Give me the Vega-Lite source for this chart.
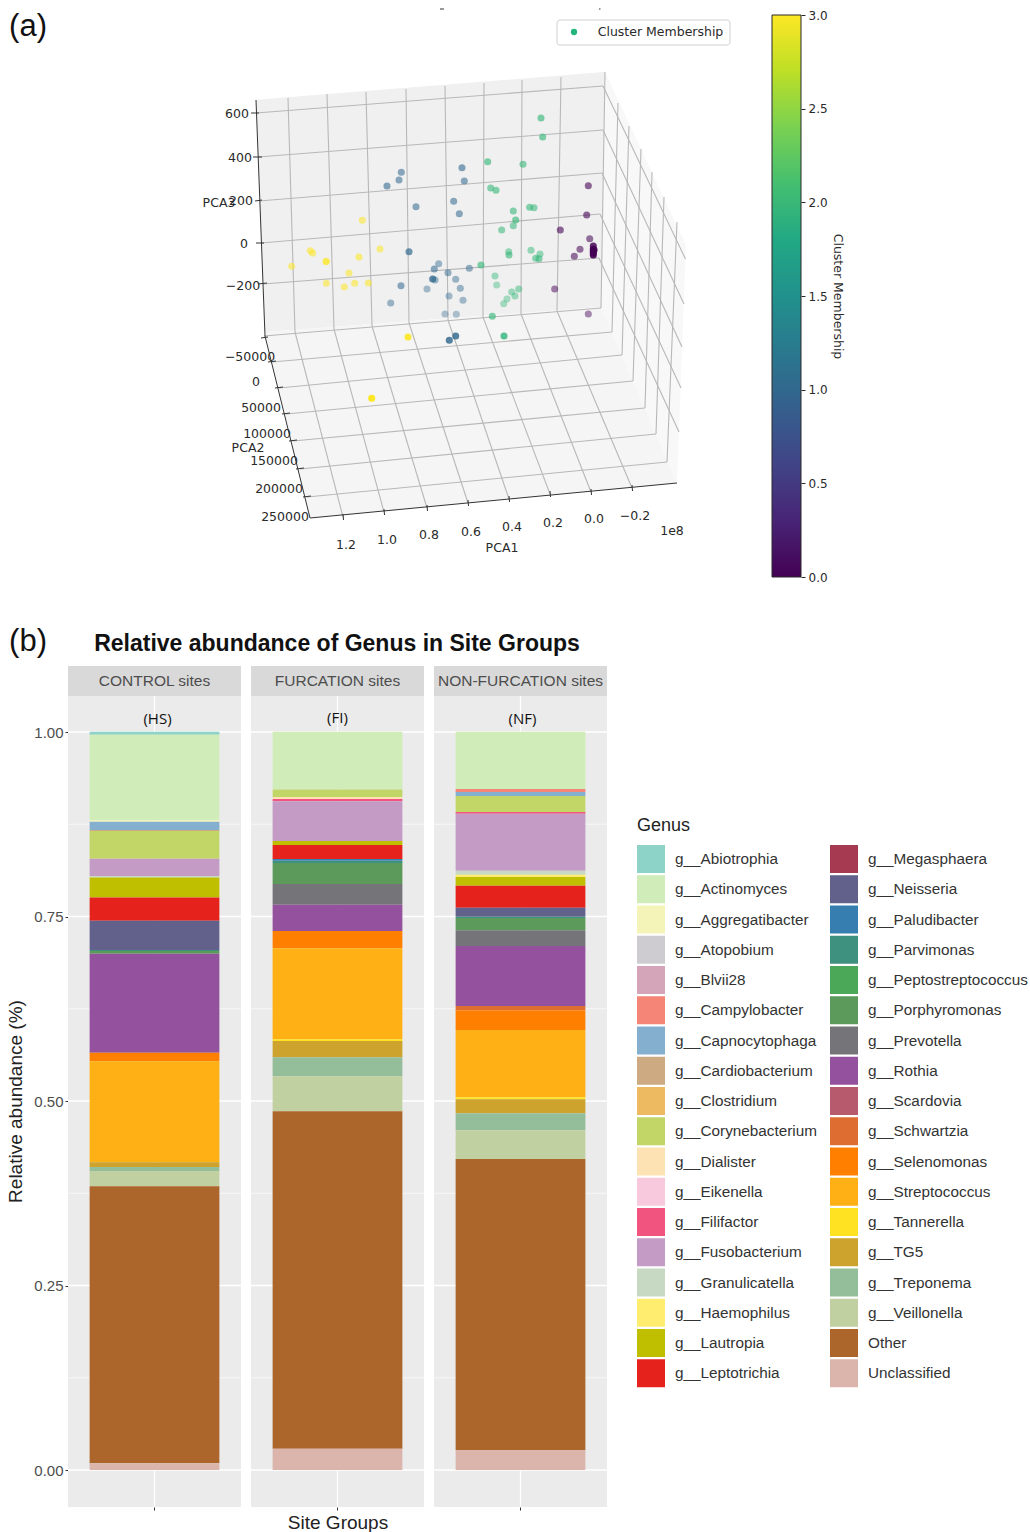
{"$schema":"https://vega.github.io/schema/vega-lite/v6.json","padding":0,"background":"white","autosize":{"type":"none"},"width":1030,"height":1532,"config":{"view":{"stroke":null},"font":"Liberation Sans"},
"datasets":{
"panes":[
{"pane":"back","a":256,"b":100,"b2":100},{"pane":"back","a":265,"b":99,"b2":332},{"pane":"back","a":601,"b":72.3,"b2":307},{"pane":"back","a":605,"b":72,"b2":72},
{"pane":"floor","a":265,"b":332,"b2":332},{"pane":"floor","a":310,"b":328.7,"b2":518},{"pane":"floor","a":601,"b":307,"b2":490},{"pane":"floor","a":677,"b":483,"b2":483},
{"pane":"right","a":601,"b":308,"b2":308},{"pane":"right","a":605,"b":72,"b2":317},{"pane":"right","a":677,"b":226,"b2":483},{"pane":"right","a":686,"b":245,"b2":245}],
"grid":[
{"a":256,"b":113,"a2":603,"b2":86},{"a":258,"b":157,"a2":603,"b2":130},{"a":259,"b":201,"a2":602,"b2":173},{"a":261,"b":243,"a2":600,"b2":214},{"a":263,"b":284,"a2":599,"b2":258},
{"a":603,"b":86,"a2":685.5,"b2":259},{"a":603,"b":130,"a2":684,"b2":304},{"a":602,"b":173,"a2":682,"b2":347},{"a":600,"b":214,"a2":681,"b2":388},{"a":599,"b":258,"a2":679,"b2":432},
{"a":288,"b":98,"a2":295,"b2":332},{"a":327,"b":94,"a2":334,"b2":329},{"a":366,"b":92,"a2":372,"b2":326},{"a":406,"b":89,"a2":409,"b2":323},{"a":445,"b":86,"a2":448,"b2":320},{"a":484,"b":83,"a2":483,"b2":317},{"a":522,"b":80,"a2":521,"b2":314},{"a":561,"b":77,"a2":557,"b2":311},
{"a":295,"b":332,"a2":343,"b2":517},{"a":334,"b":329,"a2":384,"b2":512},{"a":372,"b":326,"a2":427,"b2":508},{"a":409,"b":323,"a2":468,"b2":503},{"a":448,"b":320,"a2":509,"b2":499},{"a":483,"b":317,"a2":550,"b2":494},{"a":521,"b":314,"a2":591,"b2":492},{"a":557,"b":311,"a2":632,"b2":488},
{"a":264,"b":336,"a2":601,"b2":308},{"a":272,"b":362,"a2":612,"b2":332},{"a":279,"b":388,"a2":622,"b2":355},{"a":286,"b":414,"a2":633,"b2":381},{"a":293,"b":441,"a2":645,"b2":408},{"a":300,"b":469,"a2":656,"b2":434},{"a":307,"b":497,"a2":667,"b2":462},
{"a":612,"b":332,"a2":618,"b2":103},{"a":622,"b":355,"a2":629,"b2":126},{"a":633,"b":381,"a2":641,"b2":149},{"a":645,"b":408,"a2":652,"b2":172},{"a":656,"b":434,"a2":664,"b2":197},{"a":667,"b":462,"a2":677,"b2":222},
{"a":605,"b":72,"a2":601,"b2":308}],
"axes3d":[
{"a":256,"b":100,"a2":265,"b2":336},{"a":265,"b":336,"a2":310,"b2":518},{"a":310,"b":518,"a2":677,"b2":483},
{"a":251,"b":113,"a2":259,"b2":113},{"a":253,"b":157,"a2":262,"b2":157},{"a":255,"b":201,"a2":262,"b2":200},{"a":256,"b":243,"a2":264,"b2":243},{"a":258,"b":284,"a2":267,"b2":283},
{"a":261,"b":338,"a2":268,"b2":337},{"a":268,"b":362,"a2":276,"b2":361},{"a":275,"b":388,"a2":283,"b2":387},{"a":282,"b":414,"a2":290,"b2":413},{"a":289,"b":441,"a2":297,"b2":440},{"a":296,"b":469,"a2":304,"b2":468},{"a":303,"b":497,"a2":311,"b2":496},
{"a":343,"b":514,"a2":343.5,"b2":520},{"a":384,"b":509,"a2":384.5,"b2":515},{"a":427,"b":505,"a2":427.5,"b2":511},{"a":468,"b":500,"a2":468.5,"b2":506},{"a":509,"b":496,"a2":509.5,"b2":502},{"a":550,"b":491,"a2":550.5,"b2":497},{"a":591,"b":489,"a2":591.5,"b2":495},{"a":632,"b":485,"a2":632.5,"b2":491},
{"a":440,"b":9,"a2":444,"b2":9},{"a":599,"b":9,"a2":600.5,"b2":9}],
"labels3d":[
{"a":237,"b":114,"t":"600"},{"a":240,"b":158,"t":"400"},{"a":241,"b":201,"t":"200"},{"a":244,"b":244,"t":"0"},{"a":243,"b":286,"t":"−200"},{"a":219,"b":203,"t":"PCA3"},
{"a":250,"b":357,"t":"−50000"},{"a":256,"b":382,"t":"0"},{"a":261,"b":408,"t":"50000"},{"a":267,"b":434,"t":"100000"},{"a":274,"b":461,"t":"150000"},{"a":279,"b":489,"t":"200000"},{"a":285,"b":517,"t":"250000"},{"a":248,"b":448,"t":"PCA2"},
{"a":346,"b":545,"t":"1.2"},{"a":387,"b":540,"t":"1.0"},{"a":429,"b":535,"t":"0.8"},{"a":471,"b":532,"t":"0.6"},{"a":512,"b":527,"t":"0.4"},{"a":553,"b":523,"t":"0.2"},{"a":594,"b":519,"t":"0.0"},{"a":635,"b":516,"t":"−0.2"},{"a":672,"b":531,"t":"1e8"},{"a":502,"b":548,"t":"PCA1"},
{"a":660.5,"b":32,"t":"Cluster Membership"}],
"pts":[
{"a":291.7,"b":266.3,"c":3,"d":0.5},{"a":310.3,"b":250.7,"c":3,"d":0.5},{"a":312.7,"b":253,"c":3,"d":0.5},{"a":326,"b":261.7,"c":3,"d":0.5},{"a":326.3,"b":261.3,"c":3,"d":0.5},{"a":326.3,"b":283.3,"c":3,"d":0.5},{"a":344.3,"b":287,"c":3,"d":0.5},{"a":349,"b":273,"c":3,"d":0.5},{"a":354.7,"b":283.3,"c":3,"d":0.5},{"a":368.3,"b":283,"c":3,"d":0.5},{"a":359,"b":257,"c":3,"d":0.55},{"a":362.3,"b":220.3,"c":3,"d":0.5},{"a":380,"b":249,"c":3,"d":0.5},{"a":408,"b":337,"c":3,"d":0.9},{"a":371.7,"b":398.3,"c":3,"d":1},
{"a":387,"b":186,"c":1,"d":0.55},{"a":399,"b":180,"c":1,"d":0.5},{"a":401.3,"b":172.3,"c":1,"d":0.5},{"a":462,"b":167.7,"c":1,"d":0.55},{"a":464.3,"b":181,"c":1,"d":0.5},{"a":416,"b":206.7,"c":1,"d":0.5},{"a":453.7,"b":201.3,"c":1,"d":0.5},{"a":459.3,"b":213.7,"c":1,"d":0.5},{"a":409,"b":251.7,"c":1,"d":0.65},{"a":438.7,"b":263.7,"c":1,"d":0.4},{"a":434.3,"b":269,"c":1,"d":0.5},{"a":448,"b":272.7,"c":1,"d":0.45},{"a":469.3,"b":268.3,"c":1,"d":0.45},{"a":432.7,"b":279,"c":1,"d":0.75},{"a":435,"b":280,"c":1,"d":0.4},{"a":455.7,"b":279.3,"c":1,"d":0.4},{"a":460.3,"b":288.3,"c":1,"d":0.4},{"a":401,"b":285.7,"c":1,"d":0.5},{"a":427,"b":289,"c":1,"d":0.35},{"a":449,"b":296,"c":1,"d":0.35},{"a":463,"b":300.3,"c":1,"d":0.35},{"a":390.7,"b":303,"c":1,"d":0.4},{"a":445,"b":314,"c":1,"d":0.3},{"a":456.3,"b":314.3,"c":1,"d":0.3},{"a":449.3,"b":340.3,"c":1,"d":0.8},{"a":455.7,"b":336,"c":1,"d":0.8},
{"a":487.7,"b":161.7,"c":2,"d":0.6},{"a":490.7,"b":188,"c":2,"d":0.55},{"a":496,"b":190.3,"c":2,"d":0.55},{"a":481,"b":265,"c":2,"d":0.6},{"a":495,"b":276,"c":2,"d":0.4},{"a":496.7,"b":285,"c":2,"d":0.35},{"a":492.3,"b":316.3,"c":2,"d":0.6},{"a":504,"b":336,"c":2,"d":0.8},{"a":541,"b":118,"c":2,"d":0.6},{"a":542.7,"b":137,"c":2,"d":0.6},{"a":523,"b":164.3,"c":2,"d":0.55},{"a":513.3,"b":211,"c":2,"d":0.55},{"a":529.7,"b":207.3,"c":2,"d":0.55},{"a":534,"b":207.7,"c":2,"d":0.5},{"a":515.7,"b":220,"c":2,"d":0.6},{"a":513.3,"b":225.7,"c":2,"d":0.5},{"a":501.7,"b":230,"c":2,"d":0.5},{"a":508.7,"b":251.7,"c":2,"d":0.45},{"a":509,"b":255,"c":2,"d":0.55},{"a":531,"b":250.3,"c":2,"d":0.45},{"a":540,"b":254,"c":2,"d":0.45},{"a":535.7,"b":258.3,"c":2,"d":0.5},{"a":539,"b":258.7,"c":2,"d":0.55},{"a":518.7,"b":289,"c":2,"d":0.45},{"a":511.7,"b":292,"c":2,"d":0.4},{"a":515,"b":296,"c":2,"d":0.4},{"a":507,"b":299,"c":2,"d":0.35},{"a":503.7,"b":303.7,"c":2,"d":0.35},
{"a":588.3,"b":185.7,"c":0,"d":0.55},{"a":586.7,"b":215,"c":0,"d":0.55},{"a":560.3,"b":230,"c":0,"d":0.55},{"a":589.7,"b":238.7,"c":0,"d":0.5},{"a":580,"b":249.3,"c":0,"d":0.5},{"a":574.3,"b":256.3,"c":0,"d":0.5},{"a":554.7,"b":289,"c":0,"d":0.45},{"a":588.3,"b":314,"c":0,"d":0.4},{"a":593.3,"b":246,"c":0,"d":0.8},{"a":593.3,"b":249,"c":0,"d":0.9},{"a":593.3,"b":251,"c":0,"d":1},{"a":594,"b":250,"c":0,"d":1},{"a":593.3,"b":253,"c":0,"d":1},{"a":593.3,"b":255,"c":0,"d":0.9}],
"bars":[
{"site":"CONTROL sites","genus":"g__Abiotrophia","value":0.0041,"rank":1},{"site":"CONTROL sites","genus":"g__Actinomyces","value":0.116,"rank":2},{"site":"CONTROL sites","genus":"g__Aggregatibacter","value":0.0019,"rank":3},{"site":"CONTROL sites","genus":"g__Capnocytophaga","value":0.0112,"rank":7},{"site":"CONTROL sites","genus":"g__Cardiobacterium","value":0.0014,"rank":8},{"site":"CONTROL sites","genus":"g__Corynebacterium","value":0.0375,"rank":10},{"site":"CONTROL sites","genus":"g__Fusobacterium","value":0.0234,"rank":14},{"site":"CONTROL sites","genus":"g__Granulicatella","value":0.0023,"rank":15},{"site":"CONTROL sites","genus":"g__Lautropia","value":0.0271,"rank":17},{"site":"CONTROL sites","genus":"g__Leptotrichia","value":0.0312,"rank":18},{"site":"CONTROL sites","genus":"g__Neisseria","value":0.0397,"rank":20},{"site":"CONTROL sites","genus":"g__Parvimonas","value":0.0014,"rank":22},{"site":"CONTROL sites","genus":"g__Porphyromonas","value":0.0037,"rank":24},{"site":"CONTROL sites","genus":"g__Rothia","value":0.1341,"rank":26},{"site":"CONTROL sites","genus":"g__Selenomonas","value":0.0117,"rank":29},{"site":"CONTROL sites","genus":"g__Streptococcus","value":0.1369,"rank":30},{"site":"CONTROL sites","genus":"g__TG5","value":0.0064,"rank":32},{"site":"CONTROL sites","genus":"g__Treponema","value":0.0054,"rank":33},{"site":"CONTROL sites","genus":"g__Veillonella","value":0.0207,"rank":34},{"site":"CONTROL sites","genus":"Other","value":0.3753,"rank":35},{"site":"CONTROL sites","genus":"Unclassified","value":0.0091,"rank":36},
{"site":"FURCATION sites","genus":"g__Actinomyces","value":0.078,"rank":2},{"site":"FURCATION sites","genus":"g__Corynebacterium","value":0.0104,"rank":10},{"site":"FURCATION sites","genus":"g__Dialister","value":0.0027,"rank":11},{"site":"FURCATION sites","genus":"g__Filifactor","value":0.0031,"rank":13},{"site":"FURCATION sites","genus":"g__Fusobacterium","value":0.0538,"rank":14},{"site":"FURCATION sites","genus":"g__Lautropia","value":0.0054,"rank":17},{"site":"FURCATION sites","genus":"g__Leptotrichia","value":0.019,"rank":18},{"site":"FURCATION sites","genus":"g__Paludibacter","value":0.0023,"rank":21},{"site":"FURCATION sites","genus":"g__Parvimonas","value":0.0031,"rank":22},{"site":"FURCATION sites","genus":"g__Porphyromonas","value":0.0285,"rank":24},{"site":"FURCATION sites","genus":"g__Prevotella","value":0.028,"rank":25},{"site":"FURCATION sites","genus":"g__Rothia","value":0.0356,"rank":26},{"site":"FURCATION sites","genus":"g__Selenomonas","value":0.0234,"rank":29},{"site":"FURCATION sites","genus":"g__Streptococcus","value":0.1233,"rank":30},{"site":"FURCATION sites","genus":"g__Tannerella","value":0.0023,"rank":31},{"site":"FURCATION sites","genus":"g__TG5","value":0.0221,"rank":32},{"site":"FURCATION sites","genus":"g__Treponema","value":0.0257,"rank":33},{"site":"FURCATION sites","genus":"g__Veillonella","value":0.0474,"rank":34},{"site":"FURCATION sites","genus":"Other","value":0.4572,"rank":35},{"site":"FURCATION sites","genus":"Unclassified","value":0.0289,"rank":36},
{"site":"NON-FURCATION sites","genus":"g__Actinomyces","value":0.0776,"rank":2},{"site":"NON-FURCATION sites","genus":"g__Campylobacter","value":0.0041,"rank":6},{"site":"NON-FURCATION sites","genus":"g__Capnocytophaga","value":0.0054,"rank":7},{"site":"NON-FURCATION sites","genus":"g__Corynebacterium","value":0.0217,"rank":10},{"site":"NON-FURCATION sites","genus":"g__Filifactor","value":0.0023,"rank":13},{"site":"NON-FURCATION sites","genus":"g__Fusobacterium","value":0.0772,"rank":14},{"site":"NON-FURCATION sites","genus":"g__Granulicatella","value":0.0054,"rank":15},{"site":"NON-FURCATION sites","genus":"g__Haemophilus","value":0.0031,"rank":16},{"site":"NON-FURCATION sites","genus":"g__Lautropia","value":0.0118,"rank":17},{"site":"NON-FURCATION sites","genus":"g__Leptotrichia","value":0.0298,"rank":18},{"site":"NON-FURCATION sites","genus":"g__Neisseria","value":0.0122,"rank":20},{"site":"NON-FURCATION sites","genus":"g__Parvimonas","value":0.0018,"rank":22},{"site":"NON-FURCATION sites","genus":"g__Porphyromonas","value":0.0167,"rank":24},{"site":"NON-FURCATION sites","genus":"g__Prevotella","value":0.0213,"rank":25},{"site":"NON-FURCATION sites","genus":"g__Rothia","value":0.0813,"rank":26},{"site":"NON-FURCATION sites","genus":"g__Schwartzia","value":0.0058,"rank":28},{"site":"NON-FURCATION sites","genus":"g__Selenomonas","value":0.0267,"rank":29},{"site":"NON-FURCATION sites","genus":"g__Streptococcus","value":0.0912,"rank":30},{"site":"NON-FURCATION sites","genus":"g__Tannerella","value":0.0027,"rank":31},{"site":"NON-FURCATION sites","genus":"g__TG5","value":0.019,"rank":32},{"site":"NON-FURCATION sites","genus":"g__Treponema","value":0.023,"rank":33},{"site":"NON-FURCATION sites","genus":"g__Veillonella","value":0.0389,"rank":34},{"site":"NON-FURCATION sites","genus":"Other","value":0.3943,"rank":35},{"site":"NON-FURCATION sites","genus":"Unclassified","value":0.0271,"rank":36}],
"major":[{"v":0},{"v":0.25},{"v":0.5},{"v":0.75},{"v":1}],
"minor":[{"v":0.125},{"v":0.375},{"v":0.625},{"v":0.875}],
"one":[{"n":1}]
},
"resolve":{"scale":{"x":"independent","y":"independent","color":"independent","opacity":"independent"},"axis":{"x":"independent","y":"independent"},"legend":{"color":"independent"}},
"layer":[
{"encoding":{"x":{"field":"a","type":"quantitative","scale":{"domain":[0,1030],"nice":false,"zero":false},"axis":null},"y":{"field":"b","type":"quantitative","scale":{"domain":[1532,0],"nice":false,"zero":false},"axis":null}},
"layer":[
{"data":{"name":"panes"},"transform":[{"filter":"datum.pane==='back'"}],"mark":{"type":"area","orient":"vertical","color":"#f0f0f0"},"encoding":{"y2":{"field":"b2"}}},
{"data":{"name":"panes"},"transform":[{"filter":"datum.pane==='floor'"}],"mark":{"type":"area","orient":"vertical","color":"#f5f5f5"},"encoding":{"y2":{"field":"b2"}}},
{"data":{"name":"panes"},"transform":[{"filter":"datum.pane==='right'"}],"mark":{"type":"area","orient":"vertical","color":"#f8f8f8"},"encoding":{"y2":{"field":"b2"}}},
{"data":{"name":"grid"},"mark":{"type":"rule","color":"#b8b8b8","strokeWidth":1.1},"encoding":{"x2":{"field":"a2"},"y2":{"field":"b2"}}},
{"data":{"name":"axes3d"},"mark":{"type":"rule","color":"#333333","strokeWidth":1},"encoding":{"x2":{"field":"a2"},"y2":{"field":"b2"}}},
{"data":{"name":"pts"},"mark":{"type":"circle","size":50},"encoding":{"color":{"field":"c","type":"quantitative","scale":{"scheme":"viridis","domain":[0,3]},"legend":null},"opacity":{"field":"d","type":"quantitative","scale":{"domain":[0,1],"range":[0.1,1]},"legend":null}}},
{"data":{"values":[{"a":557,"b":20,"a2":730,"b2":45}]},"mark":{"type":"rect","fill":"white","stroke":"#d0d0d0","cornerRadius":3},"encoding":{"x2":{"field":"a2"},"y2":{"field":"b2"}}},
{"data":{"values":[{"a":574,"b":32}]},"mark":{"type":"circle","size":40,"color":"#24b47e","opacity":1}},
{"data":{"name":"labels3d"},"mark":{"type":"text","font":"DejaVu Sans","fontSize":12.5,"color":"#2a2a2a","align":"center","baseline":"middle"},"encoding":{"text":{"field":"t"}}},
{"data":{"values":[{"a":28,"b":27,"t":"(a)"},{"a":28,"b":642,"t":"(b)"}]},"mark":{"type":"text","font":"Liberation Sans","fontSize":31,"color":"#111","align":"center","baseline":"middle"},"encoding":{"text":{"field":"t"}}},
{"data":{"values":[{"a":337,"b":644,"t":"Relative abundance of Genus in Site Groups"}]},"mark":{"type":"text","font":"Liberation Sans","fontWeight":"bold","fontSize":23,"color":"#111","align":"center","baseline":"middle"},"encoding":{"text":{"field":"t"}}}
]},
{"data":{"values":[{"x0":0,"x1":1,"low":0,"high":3}]},
"mark":{"type":"rect","stroke":"#2a2a2a","strokeWidth":1,"color":{"gradient":"linear","x1":0,"y1":1,"x2":0,"y2":0,"stops":[{"offset":0,"color":"#440154"},{"offset":0.1,"color":"#482475"},{"offset":0.2,"color":"#414487"},{"offset":0.3,"color":"#355f8d"},{"offset":0.4,"color":"#2a788e"},{"offset":0.5,"color":"#21918c"},{"offset":0.6,"color":"#22a884"},{"offset":0.7,"color":"#44bf70"},{"offset":0.8,"color":"#7ad151"},{"offset":0.9,"color":"#bddf26"},{"offset":1,"color":"#fde725"}]}},
"encoding":{"x":{"field":"x0","type":"quantitative","scale":{"domain":[0,1],"range":[772,801],"nice":false,"zero":false},"axis":null},"x2":{"field":"x1"},
"y":{"field":"low","type":"quantitative","scale":{"domain":[0,3],"range":[577,15],"nice":false,"zero":false},"axis":{"orient":"right","offset":-229,"values":[0,0.5,1,1.5,2,2.5,3],"format":".1f","grid":false,"domain":false,"tickColor":"#2a2a2a","tickSize":4,"labelFont":"DejaVu Sans","labelFontSize":12,"labelColor":"#2a2a2a","labelPadding":3,"title":"Cluster Membership","titleFont":"DejaVu Sans","titleFontSize":12.5,"titleFontWeight":"normal","titleColor":"#2a2a2a","titlePadding":3}},"y2":{"field":"high"}}},
{"resolve":{"scale":{"x":"independent"},"axis":{"x":"independent","y":"independent"}},"layer":[
{"data":{"name":"one"},"mark":{"type":"rect","color":"#ebebeb"},"encoding":{"x":{"datum":0,"type":"quantitative","scale":{"domain":[0,1],"range":[68,241],"nice":false,"zero":false},"axis":null},"x2":{"datum":1},"y":{"datum":-0.0501,"type":"quantitative","scale":{"domain":[0,1],"range":[1470,732],"nice":false,"zero":false},"axis":null},"y2":{"datum":1.0488}}},
{"data":{"name":"one"},"mark":{"type":"rect","color":"#d9d9d9"},"encoding":{"x":{"datum":0,"type":"quantitative","scale":{"domain":[0,1],"range":[68,241],"nice":false,"zero":false},"axis":null},"x2":{"datum":1},"y":{"datum":1.0488,"type":"quantitative","scale":{"domain":[0,1],"range":[1470,732],"nice":false,"zero":false},"axis":null},"y2":{"datum":1.0894}}},
{"data":{"name":"minor"},"mark":{"type":"rule","color":"white","strokeWidth":0.6},"encoding":{"x":{"datum":0,"type":"quantitative","scale":{"domain":[0,1],"range":[68,241],"nice":false,"zero":false},"axis":null},"x2":{"datum":1},"y":{"field":"v","type":"quantitative","scale":{"domain":[0,1],"range":[1470,732],"nice":false,"zero":false},"axis":null}}},
{"data":{"name":"major"},"mark":{"type":"rule","color":"white","strokeWidth":1.6},"encoding":{"x":{"datum":0,"type":"quantitative","scale":{"domain":[0,1],"range":[68,241],"nice":false,"zero":false},"axis":null},"x2":{"datum":1},"y":{"field":"v","type":"quantitative","scale":{"domain":[0,1],"range":[1470,732],"nice":false,"zero":false},"axis":null}}},
{"data":{"name":"one"},"mark":{"type":"rule","color":"white","strokeWidth":1.2},"encoding":{"x":{"datum":0.5,"type":"quantitative","scale":{"domain":[0,1],"range":[68,241],"nice":false,"zero":false},"axis":null},"y":{"datum":-0.0501,"type":"quantitative","scale":{"domain":[0,1],"range":[1470,732],"nice":false,"zero":false},"axis":null},"y2":{"datum":1.0488}}},
{"data":{"name":"bars"},"transform":[{"filter":"datum.site==='CONTROL sites'"}],"mark":{"type":"bar"},"encoding":{
"x":{"field":"site","type":"nominal","scale":{"type":"band","range":[68,241],"paddingInner":0.25,"paddingOuter":0.125},"axis":{"orient":"bottom","offset":-25,"title":null,"labels":false,"grid":false,"domain":false,"tickColor":"#333","tickSize":3}},
"y":{"field":"value","type":"quantitative","stack":"zero","scale":{"domain":[0,1],"range":[1470,732],"nice":false,"zero":false},"axis":{"orient":"left","offset":-68,"title":"Relative abundance (%)","titleFontSize":19,"titleFontWeight":"normal","titleColor":"#222","titlePadding":8,"values":[0,0.25,0.5,0.75,1],"format":".2f","labelFontSize":15,"labelColor":"#4d4d4d","tickColor":"#333","tickSize":3,"domain":false,"grid":false}},
"order":{"field":"rank","sort":"descending"},
"color":{"field":"genus","type":"nominal","scale":{"domain":["g__Abiotrophia","g__Actinomyces","g__Aggregatibacter","g__Atopobium","g__Blvii28","g__Campylobacter","g__Capnocytophaga","g__Cardiobacterium","g__Clostridium","g__Corynebacterium","g__Dialister","g__Eikenella","g__Filifactor","g__Fusobacterium","g__Granulicatella","g__Haemophilus","g__Lautropia","g__Leptotrichia","g__Megasphaera","g__Neisseria","g__Paludibacter","g__Parvimonas","g__Peptostreptococcus","g__Porphyromonas","g__Prevotella","g__Rothia","g__Scardovia","g__Schwartzia","g__Selenomonas","g__Streptococcus","g__Tannerella","g__TG5","g__Treponema","g__Veillonella","Other","Unclassified"],"range":["#8dd3c7","#d0ecb9","#f4f4b9","#cfccd1","#d4a5b8","#f58577","#85afce","#cdaa82","#edb961","#c2d667","#fde3b4","#f8c8dc","#f0547f","#c39bc5","#c7d9c3","#ffed6f","#bfbf00","#e5231c","#a53a50","#62618c","#377eb0","#3f917f","#4aa858","#5b9a5b","#747479","#94519e","#b85a6e","#dd6d31","#ff8000","#ffb014","#ffe222","#cda22d","#94bd99","#c1d0a1","#ac652a","#dbb4ac"]},
"legend":{"orient":"none","legendX":637,"legendY":817,"title":"Genus","titleFontSize":18,"titleFontWeight":"normal","titleColor":"#222","titlePadding":10,"columns":2,"direction":"vertical","symbolType":"square","symbolSize":784,"symbolStrokeWidth":0,"symbolLimit":40,"labelFontSize":15.3,"labelColor":"#333","labelOffset":10,"rowPadding":2.25,"columnPadding":13}}}},
{"data":{"values":[{"site":"CONTROL sites","h":1.0176,"t":"(HS)"}]},"mark":{"type":"text","font":"Open Sans","fontSize":15,"color":"#111","dx":3},"encoding":{"x":{"field":"site","type":"nominal","scale":{"type":"band","range":[68,241]},"axis":null},"y":{"field":"h","type":"quantitative","scale":{"domain":[0,1],"range":[1470,732],"nice":false,"zero":false},"axis":null},"text":{"field":"t"}}},
{"data":{"values":[{"site":"CONTROL sites","h":1.069}]},"mark":{"type":"text","fontSize":15.5,"color":"#4d4d4d"},"encoding":{"x":{"field":"site","type":"nominal","scale":{"type":"band","range":[68,241]},"axis":null},"y":{"field":"h","type":"quantitative","scale":{"domain":[0,1],"range":[1470,732],"nice":false,"zero":false},"axis":null},"text":{"field":"site"}}}
]},
{"resolve":{"scale":{"x":"independent"},"axis":{"x":"independent"}},"layer":[
{"data":{"name":"one"},"mark":{"type":"rect","color":"#ebebeb"},"encoding":{"x":{"datum":0,"type":"quantitative","scale":{"domain":[0,1],"range":[251,424],"nice":false,"zero":false},"axis":null},"x2":{"datum":1},"y":{"datum":-0.0501,"type":"quantitative","scale":{"domain":[0,1],"range":[1470,732],"nice":false,"zero":false},"axis":null},"y2":{"datum":1.0488}}},
{"data":{"name":"one"},"mark":{"type":"rect","color":"#d9d9d9"},"encoding":{"x":{"datum":0,"type":"quantitative","scale":{"domain":[0,1],"range":[251,424],"nice":false,"zero":false},"axis":null},"x2":{"datum":1},"y":{"datum":1.0488,"type":"quantitative","scale":{"domain":[0,1],"range":[1470,732],"nice":false,"zero":false},"axis":null},"y2":{"datum":1.0894}}},
{"data":{"name":"minor"},"mark":{"type":"rule","color":"white","strokeWidth":0.6},"encoding":{"x":{"datum":0,"type":"quantitative","scale":{"domain":[0,1],"range":[251,424],"nice":false,"zero":false},"axis":null},"x2":{"datum":1},"y":{"field":"v","type":"quantitative","scale":{"domain":[0,1],"range":[1470,732],"nice":false,"zero":false},"axis":null}}},
{"data":{"name":"major"},"mark":{"type":"rule","color":"white","strokeWidth":1.6},"encoding":{"x":{"datum":0,"type":"quantitative","scale":{"domain":[0,1],"range":[251,424],"nice":false,"zero":false},"axis":null},"x2":{"datum":1},"y":{"field":"v","type":"quantitative","scale":{"domain":[0,1],"range":[1470,732],"nice":false,"zero":false},"axis":null}}},
{"data":{"name":"one"},"mark":{"type":"rule","color":"white","strokeWidth":1.2},"encoding":{"x":{"datum":0.5,"type":"quantitative","scale":{"domain":[0,1],"range":[251,424],"nice":false,"zero":false},"axis":null},"y":{"datum":-0.0501,"type":"quantitative","scale":{"domain":[0,1],"range":[1470,732],"nice":false,"zero":false},"axis":null},"y2":{"datum":1.0488}}},
{"data":{"name":"bars"},"transform":[{"filter":"datum.site==='FURCATION sites'"}],"mark":{"type":"bar"},"encoding":{
"x":{"field":"site","type":"nominal","scale":{"type":"band","range":[251,424],"paddingInner":0.25,"paddingOuter":0.125},"axis":{"orient":"bottom","offset":-25,"title":"Site Groups","titleFontSize":19,"titleFontWeight":"normal","titleColor":"#222","titlePadding":3,"labels":false,"grid":false,"domain":false,"tickColor":"#333","tickSize":3}},
"y":{"field":"value","type":"quantitative","stack":"zero","scale":{"domain":[0,1],"range":[1470,732],"nice":false,"zero":false},"axis":null},
"order":{"field":"rank","sort":"descending"},
"color":{"field":"genus","type":"nominal","scale":{"domain":["g__Abiotrophia","g__Actinomyces","g__Aggregatibacter","g__Atopobium","g__Blvii28","g__Campylobacter","g__Capnocytophaga","g__Cardiobacterium","g__Clostridium","g__Corynebacterium","g__Dialister","g__Eikenella","g__Filifactor","g__Fusobacterium","g__Granulicatella","g__Haemophilus","g__Lautropia","g__Leptotrichia","g__Megasphaera","g__Neisseria","g__Paludibacter","g__Parvimonas","g__Peptostreptococcus","g__Porphyromonas","g__Prevotella","g__Rothia","g__Scardovia","g__Schwartzia","g__Selenomonas","g__Streptococcus","g__Tannerella","g__TG5","g__Treponema","g__Veillonella","Other","Unclassified"],"range":["#8dd3c7","#d0ecb9","#f4f4b9","#cfccd1","#d4a5b8","#f58577","#85afce","#cdaa82","#edb961","#c2d667","#fde3b4","#f8c8dc","#f0547f","#c39bc5","#c7d9c3","#ffed6f","#bfbf00","#e5231c","#a53a50","#62618c","#377eb0","#3f917f","#4aa858","#5b9a5b","#747479","#94519e","#b85a6e","#dd6d31","#ff8000","#ffb014","#ffe222","#cda22d","#94bd99","#c1d0a1","#ac652a","#dbb4ac"]},"legend":null}}},
{"data":{"values":[{"site":"FURCATION sites","h":1.019,"t":"(FI)"}]},"mark":{"type":"text","font":"Open Sans","fontSize":15,"color":"#111"},"encoding":{"x":{"field":"site","type":"nominal","scale":{"type":"band","range":[251,424]},"axis":null},"y":{"field":"h","type":"quantitative","scale":{"domain":[0,1],"range":[1470,732],"nice":false,"zero":false},"axis":null},"text":{"field":"t"}}},
{"data":{"values":[{"site":"FURCATION sites","h":1.069}]},"mark":{"type":"text","fontSize":15.5,"color":"#4d4d4d"},"encoding":{"x":{"field":"site","type":"nominal","scale":{"type":"band","range":[251,424]},"axis":null},"y":{"field":"h","type":"quantitative","scale":{"domain":[0,1],"range":[1470,732],"nice":false,"zero":false},"axis":null},"text":{"field":"site"}}}
]},
{"resolve":{"scale":{"x":"independent"},"axis":{"x":"independent"}},"layer":[
{"data":{"name":"one"},"mark":{"type":"rect","color":"#ebebeb"},"encoding":{"x":{"datum":0,"type":"quantitative","scale":{"domain":[0,1],"range":[434,607],"nice":false,"zero":false},"axis":null},"x2":{"datum":1},"y":{"datum":-0.0501,"type":"quantitative","scale":{"domain":[0,1],"range":[1470,732],"nice":false,"zero":false},"axis":null},"y2":{"datum":1.0488}}},
{"data":{"name":"one"},"mark":{"type":"rect","color":"#d9d9d9"},"encoding":{"x":{"datum":0,"type":"quantitative","scale":{"domain":[0,1],"range":[434,607],"nice":false,"zero":false},"axis":null},"x2":{"datum":1},"y":{"datum":1.0488,"type":"quantitative","scale":{"domain":[0,1],"range":[1470,732],"nice":false,"zero":false},"axis":null},"y2":{"datum":1.0894}}},
{"data":{"name":"minor"},"mark":{"type":"rule","color":"white","strokeWidth":0.6},"encoding":{"x":{"datum":0,"type":"quantitative","scale":{"domain":[0,1],"range":[434,607],"nice":false,"zero":false},"axis":null},"x2":{"datum":1},"y":{"field":"v","type":"quantitative","scale":{"domain":[0,1],"range":[1470,732],"nice":false,"zero":false},"axis":null}}},
{"data":{"name":"major"},"mark":{"type":"rule","color":"white","strokeWidth":1.6},"encoding":{"x":{"datum":0,"type":"quantitative","scale":{"domain":[0,1],"range":[434,607],"nice":false,"zero":false},"axis":null},"x2":{"datum":1},"y":{"field":"v","type":"quantitative","scale":{"domain":[0,1],"range":[1470,732],"nice":false,"zero":false},"axis":null}}},
{"data":{"name":"one"},"mark":{"type":"rule","color":"white","strokeWidth":1.2},"encoding":{"x":{"datum":0.5,"type":"quantitative","scale":{"domain":[0,1],"range":[434,607],"nice":false,"zero":false},"axis":null},"y":{"datum":-0.0501,"type":"quantitative","scale":{"domain":[0,1],"range":[1470,732],"nice":false,"zero":false},"axis":null},"y2":{"datum":1.0488}}},
{"data":{"name":"bars"},"transform":[{"filter":"datum.site==='NON-FURCATION sites'"}],"mark":{"type":"bar"},"encoding":{
"x":{"field":"site","type":"nominal","scale":{"type":"band","range":[434,607],"paddingInner":0.25,"paddingOuter":0.125},"axis":{"orient":"bottom","offset":-25,"title":null,"labels":false,"grid":false,"domain":false,"tickColor":"#333","tickSize":3}},
"y":{"field":"value","type":"quantitative","stack":"zero","scale":{"domain":[0,1],"range":[1470,732],"nice":false,"zero":false},"axis":null},
"order":{"field":"rank","sort":"descending"},
"color":{"field":"genus","type":"nominal","scale":{"domain":["g__Abiotrophia","g__Actinomyces","g__Aggregatibacter","g__Atopobium","g__Blvii28","g__Campylobacter","g__Capnocytophaga","g__Cardiobacterium","g__Clostridium","g__Corynebacterium","g__Dialister","g__Eikenella","g__Filifactor","g__Fusobacterium","g__Granulicatella","g__Haemophilus","g__Lautropia","g__Leptotrichia","g__Megasphaera","g__Neisseria","g__Paludibacter","g__Parvimonas","g__Peptostreptococcus","g__Porphyromonas","g__Prevotella","g__Rothia","g__Scardovia","g__Schwartzia","g__Selenomonas","g__Streptococcus","g__Tannerella","g__TG5","g__Treponema","g__Veillonella","Other","Unclassified"],"range":["#8dd3c7","#d0ecb9","#f4f4b9","#cfccd1","#d4a5b8","#f58577","#85afce","#cdaa82","#edb961","#c2d667","#fde3b4","#f8c8dc","#f0547f","#c39bc5","#c7d9c3","#ffed6f","#bfbf00","#e5231c","#a53a50","#62618c","#377eb0","#3f917f","#4aa858","#5b9a5b","#747479","#94519e","#b85a6e","#dd6d31","#ff8000","#ffb014","#ffe222","#cda22d","#94bd99","#c1d0a1","#ac652a","#dbb4ac"]},"legend":null}}},
{"data":{"values":[{"site":"NON-FURCATION sites","h":1.0176,"t":"(NF)"}]},"mark":{"type":"text","font":"Open Sans","fontSize":15,"color":"#111","dx":2},"encoding":{"x":{"field":"site","type":"nominal","scale":{"type":"band","range":[434,607]},"axis":null},"y":{"field":"h","type":"quantitative","scale":{"domain":[0,1],"range":[1470,732],"nice":false,"zero":false},"axis":null},"text":{"field":"t"}}},
{"data":{"values":[{"site":"NON-FURCATION sites","h":1.069}]},"mark":{"type":"text","fontSize":15.5,"color":"#4d4d4d"},"encoding":{"x":{"field":"site","type":"nominal","scale":{"type":"band","range":[434,607]},"axis":null},"y":{"field":"h","type":"quantitative","scale":{"domain":[0,1],"range":[1470,732],"nice":false,"zero":false},"axis":null},"text":{"field":"site"}}}
]}
]}
